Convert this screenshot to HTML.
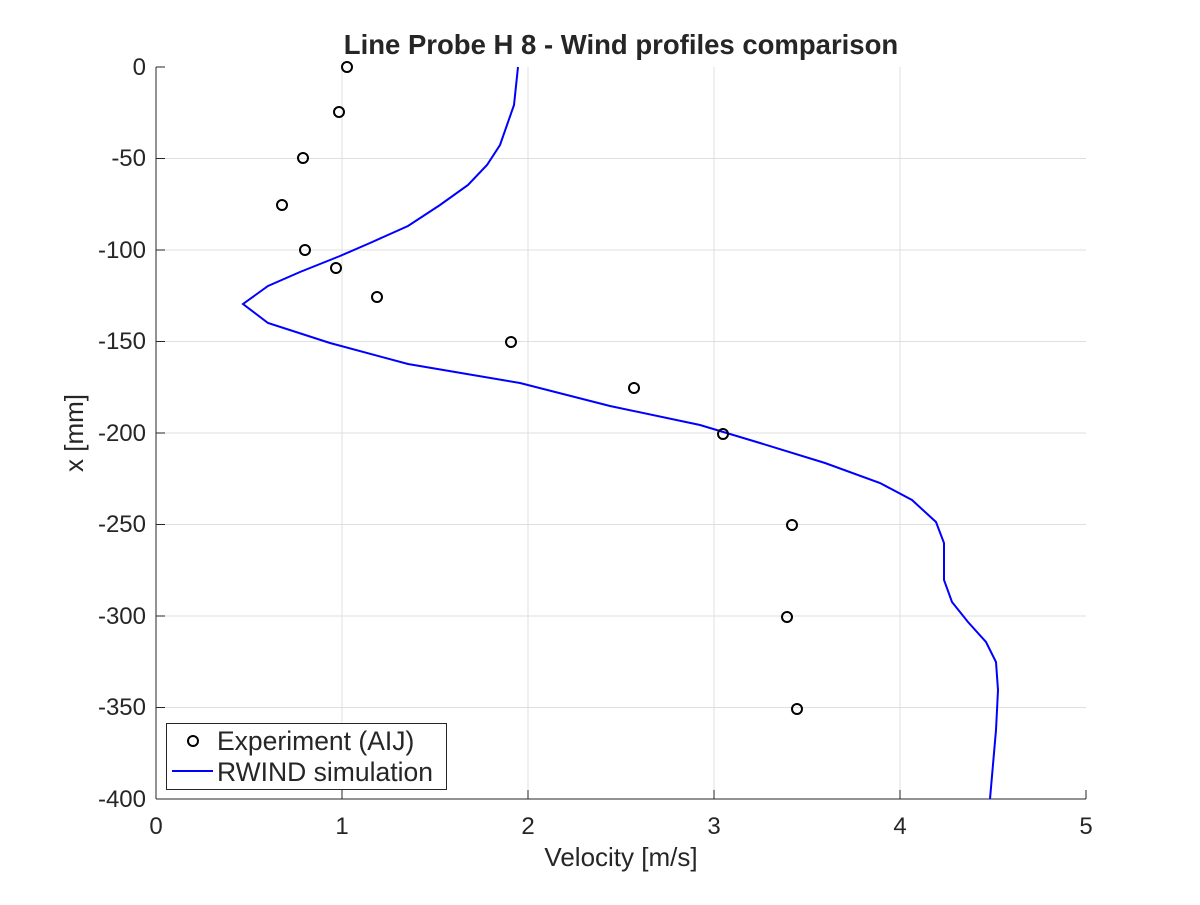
<!DOCTYPE html>
<html><head><style>body{margin:0;background:#fff}</style></head><body>
<svg width="1200" height="900" xmlns="http://www.w3.org/2000/svg" font-family="Liberation Sans, sans-serif">
<rect width="1200" height="900" fill="#fff"/>
<g stroke="#dfdfdf" stroke-width="1">
<line x1="342" y1="67" x2="342" y2="799"/><line x1="528" y1="67" x2="528" y2="799"/><line x1="714" y1="67" x2="714" y2="799"/><line x1="900" y1="67" x2="900" y2="799"/>
<line x1="156" y1="158.5" x2="1086" y2="158.5"/><line x1="156" y1="250" x2="1086" y2="250"/><line x1="156" y1="341.5" x2="1086" y2="341.5"/><line x1="156" y1="433" x2="1086" y2="433"/><line x1="156" y1="524.5" x2="1086" y2="524.5"/><line x1="156" y1="616" x2="1086" y2="616"/><line x1="156" y1="707.5" x2="1086" y2="707.5"/>
</g>
<g stroke="#262626" stroke-width="1" fill="none">
<line x1="156" y1="67" x2="156" y2="799"/><line x1="156" y1="799" x2="1086" y2="799"/>
<line x1="342" y1="799" x2="342" y2="790"/><line x1="528" y1="799" x2="528" y2="790"/><line x1="714" y1="799" x2="714" y2="790"/><line x1="900" y1="799" x2="900" y2="790"/><line x1="1086" y1="799" x2="1086" y2="790"/>
<line x1="156" y1="67" x2="165" y2="67"/><line x1="156" y1="158.5" x2="165" y2="158.5"/><line x1="156" y1="250" x2="165" y2="250"/><line x1="156" y1="341.5" x2="165" y2="341.5"/><line x1="156" y1="433" x2="165" y2="433"/><line x1="156" y1="524.5" x2="165" y2="524.5"/><line x1="156" y1="616" x2="165" y2="616"/><line x1="156" y1="707.5" x2="165" y2="707.5"/>
</g>
<g font-size="24" fill="#262626" text-anchor="middle">
<text x="156" y="834">0</text><text x="342" y="834">1</text><text x="528" y="834">2</text><text x="714" y="834">3</text><text x="900" y="834">4</text><text x="1086" y="834">5</text>
</g>
<g font-size="24" fill="#262626" text-anchor="end">
<text x="146" y="75">0</text><text x="146" y="166">-50</text><text x="146" y="258">-100</text><text x="146" y="349">-150</text><text x="146" y="441">-200</text><text x="146" y="532">-250</text><text x="146" y="624">-300</text><text x="146" y="715">-350</text><text x="146" y="807">-400</text>
</g>
<text x="621" y="866" font-size="26" fill="#262626" text-anchor="middle">Velocity [m/s]</text>
<text transform="translate(83,433) rotate(-90)" font-size="26" fill="#262626" text-anchor="middle">x [mm]</text>
<text x="621" y="54" font-size="27.5" font-weight="bold" fill="#262626" text-anchor="middle">Line Probe H 8 - Wind profiles comparison</text>
<polyline fill="none" stroke="#0000ff" stroke-width="2" points="518,67 514,105 500,145 487,165 468,185 440,205 408,226 370,243 340,256 300,272 268,286 243,304 268,323 330,343 408,364 520,383 610,406 700,425 760,443 825,463 880,483 912,500 936,522 944,543 944,580 952,602 968,622 986,642 996,662 998,690 996,730 990,799"/>
<g fill="none" stroke="#000" stroke-width="2">
<circle cx="347" cy="67" r="5"/><circle cx="339" cy="112" r="5"/><circle cx="303" cy="158" r="5"/><circle cx="282" cy="205" r="5"/><circle cx="305" cy="250" r="5"/><circle cx="336" cy="268" r="5"/><circle cx="377" cy="297" r="5"/><circle cx="511" cy="342" r="5"/><circle cx="634" cy="388" r="5"/><circle cx="723" cy="434" r="5"/><circle cx="792" cy="525" r="5"/><circle cx="787" cy="617" r="5"/><circle cx="797" cy="709" r="5"/>
</g>
<rect x="166.5" y="723.5" width="280" height="66" fill="#fff" stroke="#262626" stroke-width="1"/>
<circle cx="193" cy="741" r="5" fill="none" stroke="#000" stroke-width="2"/>
<line x1="172" y1="771" x2="213" y2="771" stroke="#0000ff" stroke-width="2"/>
<text x="217" y="750" font-size="26.5" fill="#262626">Experiment (AIJ)</text>
<text x="217" y="781" font-size="26.5" fill="#262626">RWIND simulation</text>
</svg>
</body></html>
